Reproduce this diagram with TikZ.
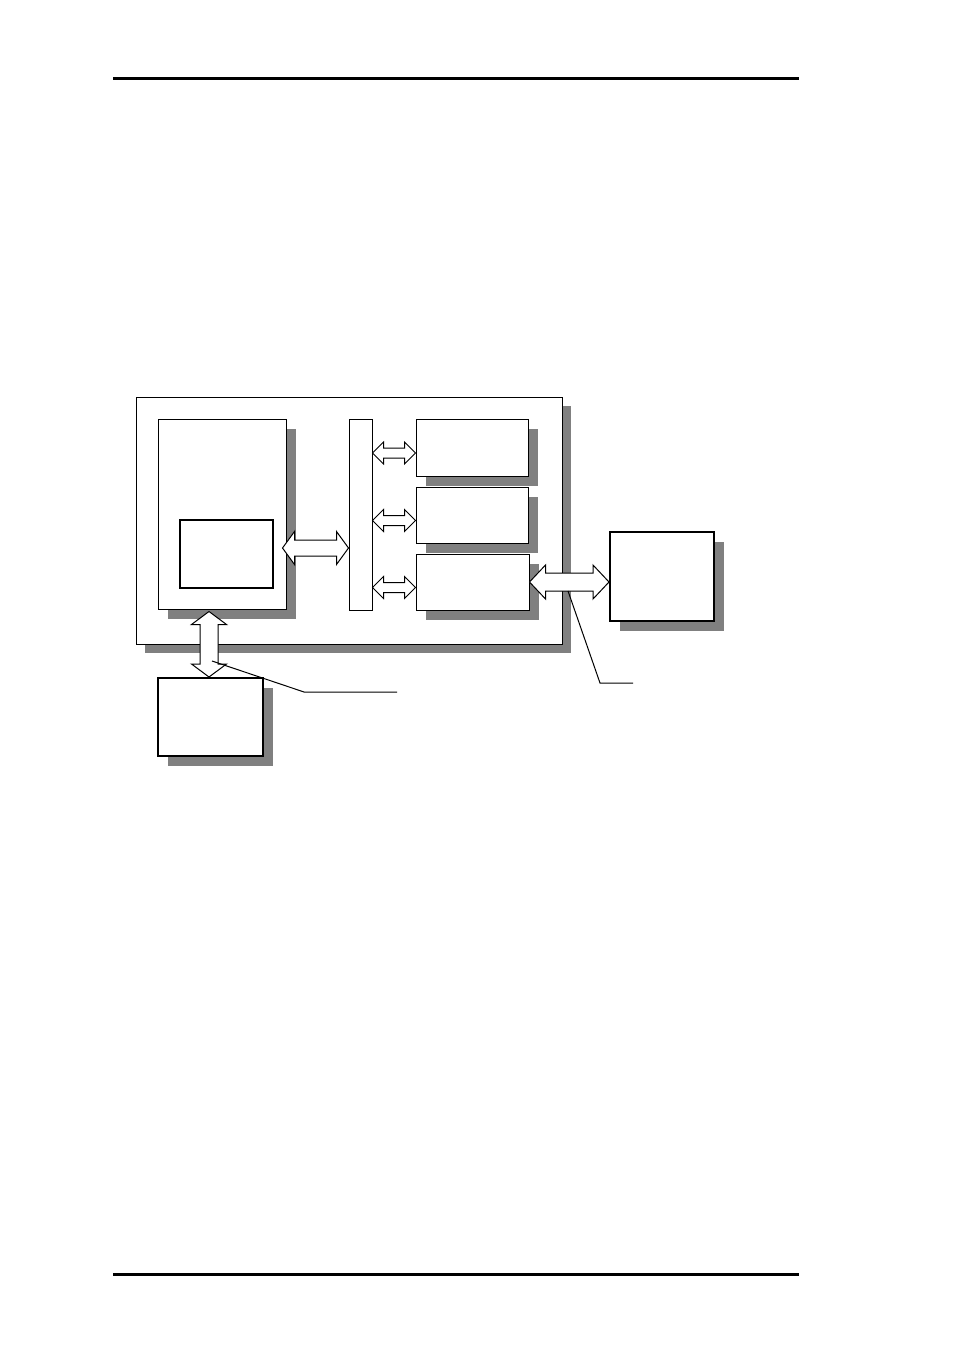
\documentclass[tikz,border=0pt]{standalone}
\usetikzlibrary{shadows,calc}
% fleche double epaisse : depart, arrivee, demi-corps, demi-tete, longueur tete
\newcommand{\hfleche}[5]{%
\draw[fleche] let \p1=#1, \p2=#2 in
(\x1,\y1) -- (\x1+#5pt,\y1+#4pt) -- (\x1+#5pt,\y1+#3pt) -- (\x2-#5pt,\y1+#3pt) -- (\x2-#5pt,\y1+#4pt) -- (\x2,\y1)
-- (\x2-#5pt,\y1-#4pt) -- (\x2-#5pt,\y1-#3pt) -- (\x1+#5pt,\y1-#3pt) -- (\x1+#5pt,\y1-#4pt) -- cycle;}
\newcommand{\vfleche}[5]{%
\draw[fleche] let \p1=#1, \p2=#2 in
(\x1,\y1) -- (\x1+#4pt,\y1+#5pt) -- (\x1+#3pt,\y1+#5pt) -- (\x1+#3pt,\y2-#5pt) -- (\x1+#4pt,\y2-#5pt) -- (\x1,\y2)
-- (\x1-#4pt,\y2-#5pt) -- (\x1-#3pt,\y2-#5pt) -- (\x1-#3pt,\y1+#5pt) -- (\x1-#4pt,\y1+#5pt) -- cycle;}
\begin{document}
\begin{tikzpicture}[x=1pt,y=-1pt]
\tikzstyle{fleche}=[draw,fill=white,line width=1pt]
\tikzstyle{renvoi}=[line width=1pt]
\tikzstyle{filet}=[line width=3pt]
\tikzset{bloc/.style={draw,fill=white,line width=1pt,inner sep=0pt},
ombre/.style={drop shadow={shadow xshift=#1pt,shadow yshift=-#1pt,fill=black!50,opacity=1}},
ombre/.default={10}}
\useasboundingbox (0,0) rectangle (954,1351);

\coordinate (h1) at (113,79); \coordinate (h2) at (799,79);
\coordinate (b1) at (113,1274); \coordinate (b2) at (799,1274);
\draw[filet] (h1) -- (h2);
\draw[filet] (b1) -- (b2);

\node[bloc,ombre=9,minimum width=426pt,minimum height=247pt] (carte) at (349,520.5) {};
\node[bloc,ombre,minimum width=128pt,minimum height=190pt] (cpu) at (222,514) {};
\node[bloc,line width=2pt,minimum width=93pt,minimum height=68pt] (mem) at (226.5,554) {};
\node[bloc,minimum width=23pt,minimum height=191pt] (bus) at (360.5,514.5) {};
\node[bloc,ombre,minimum width=112pt,minimum height=57pt] (io1) at (472,447.5) {};
\node[bloc,ombre,minimum width=112pt,minimum height=56pt] (io2) at (472,515) {};
\node[bloc,ombre,minimum width=113pt,minimum height=56pt] (io3) at (472.5,582) {};
\node[bloc,ombre,line width=2pt,minimum width=104pt,minimum height=89pt] (ext) at (662,576.5) {};
\node[bloc,ombre,line width=2pt,minimum width=105pt,minimum height=78pt] (hote) at (210.5,717) {};

\hfleche{($(cpu.east)+(-4,34)$)}{(bus.west)}{8}{16.5}{12}
\foreach \i in {1,2,3}{
  \hfleche{($(bus.east |- io\i.west)+(0,5.5)$)}{(io\i.west)}{5}{11}{11}
}
\hfleche{(io3.east)}{(ext.west)}{9}{17}{16}
\vfleche{($(hote.north)+(-1.5,0)$)}{($(cpu.south)+(0,2)$)}{9}{17.5}{13}

\coordinate (r1) at (212,661); \coordinate (r1a) at (304,692); \coordinate (r1b) at (397,692);
\coordinate (r2) at (568,591); \coordinate (r2a) at (600,683); \coordinate (r2b) at (633,683);
\draw[renvoi] (r1) -- (r1a) -- (r1b);
\draw[renvoi] (r2) -- (r2a) -- (r2b);

\end{tikzpicture}
\end{document}
